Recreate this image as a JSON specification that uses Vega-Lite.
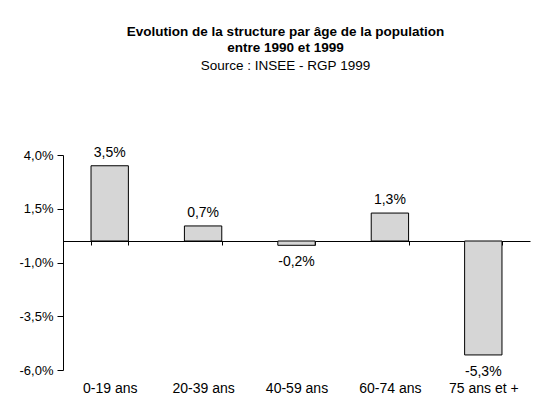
{
  "$schema": "https://vega.github.io/schema/vega-lite/v6.json",
  "width": 467,
  "height": 215,
  "autosize": {"type": "none"},
  "padding": {"left": 63, "top": 155, "right": 7, "bottom": 30},
  "background": "white",
  "title": {
    "text": ["Evolution de la structure par âge de la population", "entre 1990 et 1999"],
    "subtitle": "Source : INSEE - RGP 1999",
    "frame": "group",
    "anchor": "middle",
    "dx": -11,
    "offset": 73,
    "font": "Liberation Sans",
    "fontSize": 13.5,
    "fontWeight": "bold",
    "lineHeight": 16,
    "subtitleFont": "Liberation Sans",
    "subtitleFontSize": 13.5,
    "subtitleFontWeight": "normal",
    "subtitlePadding": 5,
    "color": "black",
    "subtitleColor": "black"
  },
  "data": {
    "values": [
      {"age": "0-19 ans", "v": 0.035},
      {"age": "20-39 ans", "v": 0.007},
      {"age": "40-59 ans", "v": -0.002},
      {"age": "60-74 ans", "v": 0.013},
      {"age": "75 ans et +", "v": -0.053}
    ]
  },
  "encoding": {
    "x": {
      "field": "age",
      "type": "nominal",
      "sort": null,
      "scale": {"paddingInner": 0.6, "paddingOuter": 0.3},
      "axis": {
        "title": null,
        "labelAngle": 0,
        "offset": -129,
        "tickBand": "extent",
        "tickSize": 4,
        "labelPadding": 136,
        "domainColor": "black",
        "tickColor": "black",
        "labelColor": "black",
        "labelFont": "Liberation Sans",
        "labelFontSize": 14
      }
    },
    "y": {
      "field": "v",
      "type": "quantitative",
      "scale": {"domain": [-0.06, 0.04], "nice": false},
      "axis": {
        "title": null,
        "values": [-0.06, -0.035, -0.01, 0.015, 0.04],
        "format": ".1%",
        "grid": false,
        "tickSize": 6,
        "labelPadding": 4,
        "domainColor": "black",
        "tickColor": "black",
        "labelColor": "black",
        "labelFont": "Liberation Sans",
        "labelFontSize": 13
      }
    }
  },
  "layer": [
    {
      "mark": {"type": "bar", "fill": "#d6d6d6", "stroke": "black", "strokeWidth": 1}
    },
    {
      "transform": [{"filter": "datum.v > 0"}],
      "mark": {"type": "text", "baseline": "bottom", "dy": -6, "font": "Liberation Sans", "fontSize": 14, "color": "black"},
      "encoding": {"text": {"field": "v", "type": "quantitative", "format": ".1%"}}
    },
    {
      "transform": [{"filter": "datum.v < 0"}],
      "mark": {"type": "text", "baseline": "top", "dy": 10, "font": "Liberation Sans", "fontSize": 14, "color": "black"},
      "encoding": {"text": {"field": "v", "type": "quantitative", "format": ".1%"}}
    }
  ],
  "config": {
    "view": {"stroke": null},
    "locale": {"number": {"decimal": ",", "thousands": " ", "grouping": [3], "currency": ["", " €"], "minus": "-"}}
  }
}
